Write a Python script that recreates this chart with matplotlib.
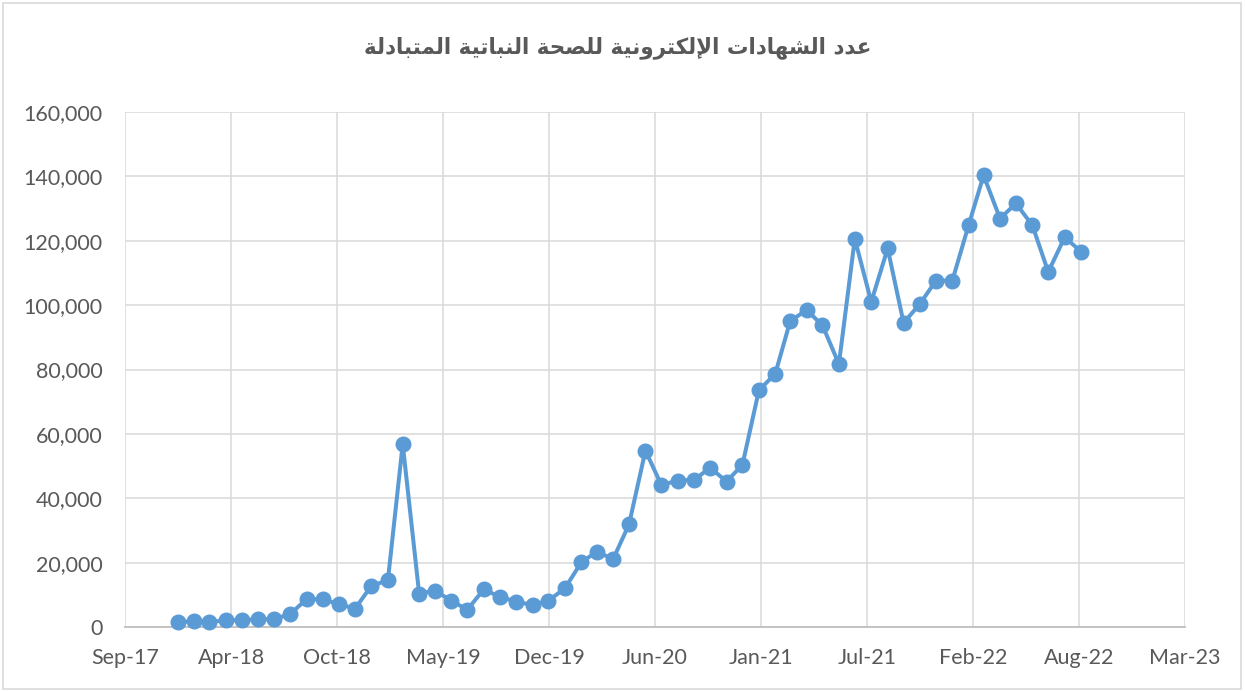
import matplotlib
matplotlib.use("Agg")
import matplotlib.pyplot as plt
import matplotlib.dates as mdates
from matplotlib.patches import Rectangle
from matplotlib.ticker import FuncFormatter
import pandas as pd
import datetime as dt

# ---------------- data ----------------
title_text = "عدد الشهادات الإلكترونية للصحة النباتية المتبادلة"
months = pd.date_range("2017-12-31", periods=57, freq="ME")
certificates = [
    1400, 1900, 1400, 2200, 2100, 2400, 2400, 4100, 8700, 8600,
    7100, 5700, 12800, 14500, 56800, 10400, 11300, 8100, 5400, 11700,
    9300, 7900, 6800, 8200, 12000, 20100, 23400, 21100, 31900, 54800,
    44100, 45500, 45700, 49500, 45200, 50400, 73500, 78700, 95000, 98500,
    93700, 81700, 120600, 101000, 117600, 94500, 100400, 107600, 107600, 125000,
    140300, 126900, 131600, 124800, 110300, 121100, 116600,
]
y_ticks = [0, 20000, 40000, 60000, 80000, 100000, 120000, 140000, 160000]

# ---------------- simple Arabic shaping (presentation forms) ----------------
FORMS = {  # isolated, final, initial, medial
    "\u0627": ("\uFE8D", "\uFE8E", None, None),
    "\u0625": ("\uFE87", "\uFE88", None, None),
    "\u0628": ("\uFE8F", "\uFE90", "\uFE91", "\uFE92"),
    "\u0629": ("\uFE93", "\uFE94", None, None),
    "\u062A": ("\uFE95", "\uFE96", "\uFE97", "\uFE98"),
    "\u062D": ("\uFEA1", "\uFEA2", "\uFEA3", "\uFEA4"),
    "\u062F": ("\uFEA9", "\uFEAA", None, None),
    "\u0631": ("\uFEAD", "\uFEAE", None, None),
    "\u0634": ("\uFEB5", "\uFEB6", "\uFEB7", "\uFEB8"),
    "\u0635": ("\uFEB9", "\uFEBA", "\uFEBB", "\uFEBC"),
    "\u0639": ("\uFEC9", "\uFECA", "\uFECB", "\uFECC"),
    "\u0643": ("\uFED9", "\uFEDA", "\uFEDB", "\uFEDC"),
    "\u0644": ("\uFEDD", "\uFEDE", "\uFEDF", "\uFEE0"),
    "\u0645": ("\uFEE1", "\uFEE2", "\uFEE3", "\uFEE4"),
    "\u0646": ("\uFEE5", "\uFEE6", "\uFEE7", "\uFEE8"),
    "\u0647": ("\uFEE9", "\uFEEA", "\uFEEB", "\uFEEC"),
    "\u0648": ("\uFEED", "\uFEEE", None, None),
    "\u064A": ("\uFEF1", "\uFEF2", "\uFEF3", "\uFEF4"),
    "\uFEF9": ("\uFEF9", "\uFEFA", None, None),  # lam-alef with hamza below
}


def dual(c):
    return c in FORMS and FORMS[c][2] is not None


def shape_word(word):
    word = word.replace("\u0644\u0625", "\uFEF9")
    out = []
    for i, c in enumerate(word):
        if c not in FORMS:
            out.append(c)
            continue
        prev_join = i > 0 and dual(word[i - 1])
        next_join = i < len(word) - 1 and dual(c) and word[i + 1] in FORMS
        iso, fin, ini, med = FORMS[c]
        if prev_join and next_join:
            out.append(med)
        elif prev_join:
            out.append(fin)
        elif next_join:
            out.append(ini)
        else:
            out.append(iso)
    return "".join(out)


def shape_rtl(text):
    shaped = " ".join(shape_word(w) for w in text.split(" "))
    return shaped[::-1]


# ---------------- figure ----------------
W, H = 1245, 691
fig = plt.figure(figsize=(W / 100, H / 100), dpi=100)
fig.patch.set_facecolor("white")

# outer chart border
fig.patches.append(Rectangle((3 / W, 2 / H), (1241 - 3) / W, (688 - 2) / H,
                             transform=fig.transFigure, fill=False,
                             edgecolor="#d9d9d9", linewidth=1.2))

ax = fig.add_axes([125 / W, 1 - 627 / H, (1185 - 125) / W, (627 - 112) / H])

line_color = "#5B9BD5"
ax.plot(months, certificates, color=line_color, linewidth=2.9,
        marker="o", markersize=10.5, markerfacecolor=line_color,
        markeredgecolor=line_color, zorder=3, clip_on=False)

x0 = dt.datetime(2017, 9, 22)
x_ticks = [x0 + dt.timedelta(days=200 * k) for k in range(11)]
ax.set_xlim(x_ticks[0], x_ticks[-1])
ax.set_xticks(x_ticks)
ax.xaxis.set_major_formatter(mdates.DateFormatter("%b-%y"))

ax.set_ylim(0, 160000)
ax.set_yticks(y_ticks)
ax.yaxis.set_major_formatter(FuncFormatter(lambda v, p: f"{int(v):,}"))

ax.grid(True, color="#d9d9d9", linewidth=1.1, zorder=0)
ax.set_axisbelow(True)
for s in ["top", "right", "left"]:
    ax.spines[s].set_visible(False)
ax.spines["bottom"].set_color("#bfbfbf")
ax.spines["bottom"].set_linewidth(1.3)

ax.tick_params(axis="both", length=0, colors="#595959", labelsize=15.5)
ax.tick_params(axis="x", pad=15)
ax.tick_params(axis="y", pad=16)
for lab in ax.get_xticklabels() + ax.get_yticklabels():
    lab.set_fontfamily(["Lato", "DejaVu Sans"])

fig.text(618 / W, 1 - 48 / H, shape_rtl(title_text), ha="center", va="center",
         fontsize=15.5, fontweight="bold", color="#595959",
         family=["DejaVu Sans"])

fig.savefig("out.png", dpi=100, facecolor="white")
